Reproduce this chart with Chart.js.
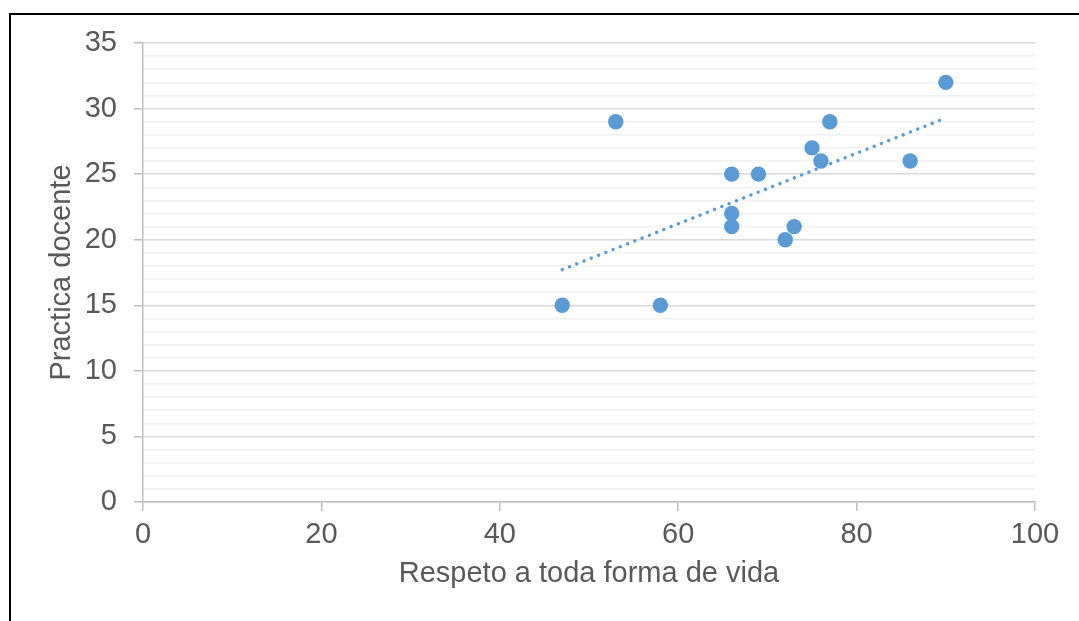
<!DOCTYPE html>
<html>
<head>
<meta charset="utf-8">
<script src="https://cdn.jsdelivr.net/npm/chart.js@4/dist/chart.umd.min.js"></script>
<style>
  html, body { margin: 0; padding: 0; background: #fff; }
  #wrap { position: relative; width: 1079px; height: 621px; overflow: hidden; }
  #marco { position: absolute; left: 9px; top: 13px; width: 1200px; height: 800px;
           border-left: 2px solid #000; border-top: 2px solid #000; }
  #grafico { position: absolute; left: 0; top: 0; }
</style>
</head>
<body>
<div id="wrap">
  <div id="marco"></div>
  <canvas id="grafico" width="1079" height="621"></canvas>
</div>
<script>
// Datos
const respeto = [47, 53, 58, 66, 66, 66, 69, 72, 73, 75, 76, 77, 86, 90];
const practica = [15, 29, 15, 25, 22, 21, 25, 20, 21, 27, 26, 29, 26, 32];
const tituloX = 'Respeto a toda forma de vida';
const tituloY = 'Practica docente';

// Línea de tendencia lineal (mínimos cuadrados)
const n = respeto.length;
const mx = respeto.reduce((a, b) => a + b, 0) / n;
const my = practica.reduce((a, b) => a + b, 0) / n;
let sxy = 0, sxx = 0;
for (let i = 0; i < n; i++) {
  sxy += (respeto[i] - mx) * (practica[i] - my);
  sxx += (respeto[i] - mx) ** 2;
}
const pendiente = sxy / sxx;
const corte = my - pendiente * mx;
const xMin = Math.min(...respeto), xMax = Math.max(...respeto);
const tendencia = [xMin, xMax].map(x => ({ x: x, y: corte + pendiente * x }));

const puntos = respeto.map((x, i) => ({ x: x, y: practica[i] }));

const fuente = { family: '"Liberation Sans", Arial, sans-serif', size: 29 };
const gris = '#595959';

const ctx = document.getElementById('grafico').getContext('2d');
const myChart = new Chart(ctx, {
  type: 'scatter',
  data: {
    datasets: [
      {
        label: 'Datos',
        data: puntos,
        backgroundColor: '#5B9BD5',
        borderWidth: 0,
        pointRadius: 7.7,
        order: 1
      },
      {
        label: 'Tendencia',
        type: 'line',
        data: tendencia,
        showLine: true,
        borderColor: '#5B9BD5',
        borderWidth: 3.4,
        borderDash: [0.1, 7.7],
        borderCapStyle: 'round',
        pointRadius: 0,
        fill: false,
        order: 2
      }
    ]
  },
  options: {
    responsive: false,
    animation: false,
    layout: { padding: { left: 0, right: 44, top: 43, bottom: 0 } },
    plugins: { legend: { display: false }, tooltip: { enabled: false } },
    scales: {
      x: {
        type: 'linear',
        min: 0,
        max: 100,
        ticks: { stepSize: 20, color: gris, font: fuente, padding: 7, maxRotation: 0 },
        grid: { drawOnChartArea: false, drawTicks: true, tickLength: 9, color: '#BFBFBF', lineWidth: 1.5 },
        border: { color: '#BFBFBF', width: 1.5 },
        title: { display: true, text: tituloX, color: gris, font: fuente, padding: { top: 0, bottom: 29.5 } },
        afterFit: s => { s.height = 119; }
      },
      y: {
        min: 0,
        max: 35,
        ticks: {
          stepSize: 1,
          autoSkip: false,
          color: gris,
          font: fuente,
          padding: 17,
          callback: v => (v % 5 === 0 ? v : '')
        },
        grid: {
          tickLength: 9,
          lineWidth: 1.5,
          color: c => (c.tick && c.tick.value % 5 === 0 ? '#D9D9D9' : '#F2F2F2'),
          tickColor: c => (c.tick && c.tick.value % 5 === 0 ? '#BFBFBF' : 'rgba(0,0,0,0)')
        },
        border: { color: '#BFBFBF', width: 1.5 },
        title: { display: true, text: tituloY, color: gris, font: fuente, padding: { top: 44.5, bottom: 0 } },
        afterFit: s => { s.width = 143; }
      }
    }
  }
});
</script>
</body>
</html>
